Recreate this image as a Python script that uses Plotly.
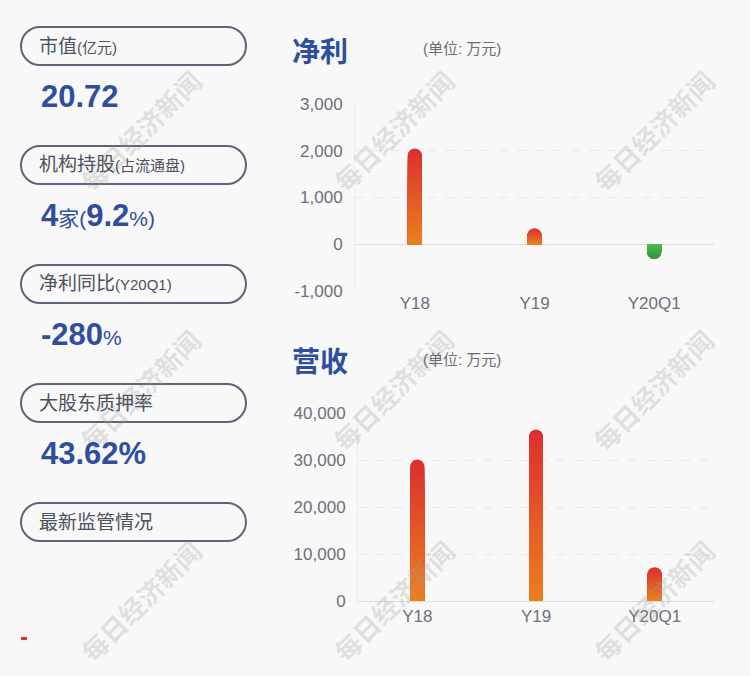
import plotly.graph_objects as go

W, H = 750, 676

# ---------------- data ----------------
categories = ["Y18", "Y19", "Y20Q1"]
net_profit = [2050, 340, -320]          # 万元
revenue = [30100, 36500, 7200]          # 万元
profit_ticks = [-1000, 0, 1000, 2000, 3000]
profit_ticktext = ["-1,000", "0", "1,000", "2,000", "3,000"]
revenue_ticks = [0, 10000, 20000, 30000, 40000]
revenue_ticktext = ["0", "10,000", "20,000", "30,000", "40,000"]

info_labels = ["市值", "机构持股", "净利同比", "大股东质押率", "最新监管情况"]
info_sub = ["(亿元)", "(占流通盘)", "(Y20Q1)", "", ""]
market_cap = "20.72"
inst_count = "4"
inst_pct = "9.2"
profit_yoy = "-280"
pledge_rate = "43.62%"

# ---------------- helpers ----------------
def px(x):
    return x / W


def py(y):
    return 1 - y / H


def hex2rgb(h):
    h = h.lstrip("#")
    return tuple(int(h[i:i + 2], 16) for i in (0, 2, 4))


def lerp(c1, c2, t):
    a, b = hex2rgb(c1), hex2rgb(c2)
    return "rgb(%d,%d,%d)" % tuple(round(a[i] + (b[i] - a[i]) * t) for i in range(3))


BG = "#f8f8f8"
BLUE = "#2f4e9c"
LABEL = "#4b515d"
TICK = "#6d7079"
ORANGE = "#ec7e1e"
RED = "#db3030"
GREEN_TOP = "#4cbc4c"
GREEN_BOT = "#3c8f3c"
FONT = "Liberation Sans, Noto Sans CJK SC, sans-serif"

N = 30  # gradient steps
fig = go.Figure()


def gradient_bars(values, xa, ya, width, c_base, c_end, sign):
    # overlaid bars from tallest (end colour) to shortest (base colour)
    for k in range(N):
        frac = (N - k) / N
        col = lerp(c_base, c_end, (N - 1 - k) / (N - 1))
        ys = [v * frac if (v > 0 if sign > 0 else v < 0) else 0 for v in values]
        fig.add_trace(go.Bar(x=categories, y=ys, width=width,
                             marker=dict(color=col, line=dict(width=0), cornerradius=7),
                             xaxis=xa, yaxis=ya, showlegend=False, hoverinfo="skip"))


gradient_bars(net_profit, "x", "y", 0.117, ORANGE, RED, 1)
gradient_bars(net_profit, "x", "y", 0.117, GREEN_TOP, GREEN_BOT, -1)
gradient_bars(revenue, "x2", "y2", 0.118, ORANGE, RED, 1)

tickfont = dict(family=FONT, size=17, color=TICK)

fig.update_layout(
    width=W, height=H,
    margin=dict(l=0, r=0, t=0, b=0, autoexpand=False),
    paper_bgcolor=BG, plot_bgcolor=BG,
    barmode="overlay",
    font=dict(family=FONT),
    xaxis=dict(domain=[px(355), px(714)], anchor="y", type="category",
               range=[-0.5, 2.5], showgrid=False, zeroline=False, showline=False,
               ticks="", tickfont=tickfont, automargin=False),
    yaxis=dict(domain=[py(291), py(104)], anchor="x", range=[-1000, 3000],
               tickvals=profit_ticks, ticktext=profit_ticktext,
               showgrid=True, gridcolor="#e9e9e9", griddash="dash", gridwidth=1,
               zeroline=True, zerolinecolor="#dedede", zerolinewidth=1,
               showline=True, linecolor="#ececec", linewidth=1,
               ticks="", ticklabelstandoff=8, tickfont=tickfont, automargin=False),
    xaxis2=dict(domain=[px(358), px(714)], anchor="y2", type="category",
                range=[-0.5, 2.5], showgrid=False, zeroline=False,
                showline=True, linecolor="#dedede", linewidth=1,
                ticks="", tickfont=tickfont, automargin=False),
    yaxis2=dict(domain=[py(601), py(413)], anchor="x2", range=[0, 40000],
                tickvals=revenue_ticks, ticktext=revenue_ticktext,
                showgrid=True, gridcolor="#e9e9e9", griddash="dash", gridwidth=1,
                zeroline=False,
                showline=True, linecolor="#ececec", linewidth=1,
                ticks="", ticklabelstandoff=8, tickfont=tickfont, automargin=False),
)

shapes = []
annotations = []


def pill(x0, y0, x1, y1):
    r = (y1 - y0) / 2
    k = 0.5523 * r
    ym = (y0 + y1) / 2
    pts = [
        ("M", [(x0 + r, y0)]),
        ("L", [(x1 - r, y0)]),
        ("C", [(x1 - r + k, y0), (x1, ym - k), (x1, ym)]),
        ("C", [(x1, ym + k), (x1 - r + k, y1), (x1 - r, y1)]),
        ("L", [(x0 + r, y1)]),
        ("C", [(x0 + r - k, y1), (x0, ym + k), (x0, ym)]),
        ("C", [(x0, ym - k), (x0 + r - k, y0), (x0 + r, y0)]),
    ]
    s = ""
    for cmd, ps in pts:
        s += cmd + " " + " ".join("%.5f,%.5f" % (px(a), py(b)) for a, b in ps) + " "
    return s + "Z"


# watermarks
for wx in (140, 393, 653):
    for wy in (130, 390, 600):
        annotations.append(dict(x=px(wx), y=py(wy), xref="paper", yref="paper",
                                xanchor="center", yanchor="middle",
                                text="<b>每日经济新闻</b>", showarrow=False, textangle=-45,
                                font=dict(family="Noto Sans CJK SC", size=26,
                                          color="rgba(160,160,160,0.28)")))

box_tops = [27, 146, 265, 384, 503]
for lab, sub, yt in zip(info_labels, info_sub, box_tops):
    shapes.append(dict(type="path", xref="paper", yref="paper",
                       path=pill(21, yt, 246, yt + 38),
                       line=dict(color="#5b6577", width=2), fillcolor="rgba(0,0,0,0)"))
    txt = lab
    if sub:
        txt += "<span style='font-size:15px'>%s</span>" % sub
    annotations.append(dict(x=px(37), y=py(yt + 19), xref="paper", yref="paper",
                            xanchor="left", yanchor="middle", showarrow=False, text=txt,
                            font=dict(family=FONT, size=19, color=LABEL)))

val_texts = [
    "<b>%s</b>" % market_cap,
    "<b>%s</b><span style='font-size:21px'>家(</span><b>%s</b><span style='font-size:21px'>%%)</span>" % (inst_count, inst_pct),
    "<b>%s</b><span style='font-size:21px'>%%</span>" % profit_yoy,
    "<b>%s</b>" % pledge_rate,
]
val_y = [96, 215, 334, 453]
for t, yv in zip(val_texts, val_y):
    annotations.append(dict(x=px(39), y=py(yv), xref="paper", yref="paper",
                            xanchor="left", yanchor="middle", showarrow=False, text=t,
                            font=dict(family=FONT, size=31, color=BLUE)))

# small red dash
shapes.append(dict(type="rect", xref="paper", yref="paper",
                   x0=px(21), x1=px(27), y0=py(640), y1=py(637),
                   fillcolor="#e03232", line=dict(width=0)))

# chart titles
for title, yt in (("净利", 50), ("营收", 360)):
    annotations.append(dict(x=px(290), y=py(yt), xref="paper", yref="paper",
                            xanchor="left", yanchor="middle", showarrow=False,
                            text="<b>%s</b>" % title,
                            font=dict(family="Noto Sans CJK SC", size=28, color=BLUE)))
    annotations.append(dict(x=px(421), y=py(yt - 1), xref="paper", yref="paper",
                            xanchor="left", yanchor="middle", showarrow=False,
                            text="(单位: 万元)",
                            font=dict(family=FONT, size=15, color="#6a6d75")))

fig.update_layout(shapes=shapes, annotations=annotations)
fig.write_html("out.html")
